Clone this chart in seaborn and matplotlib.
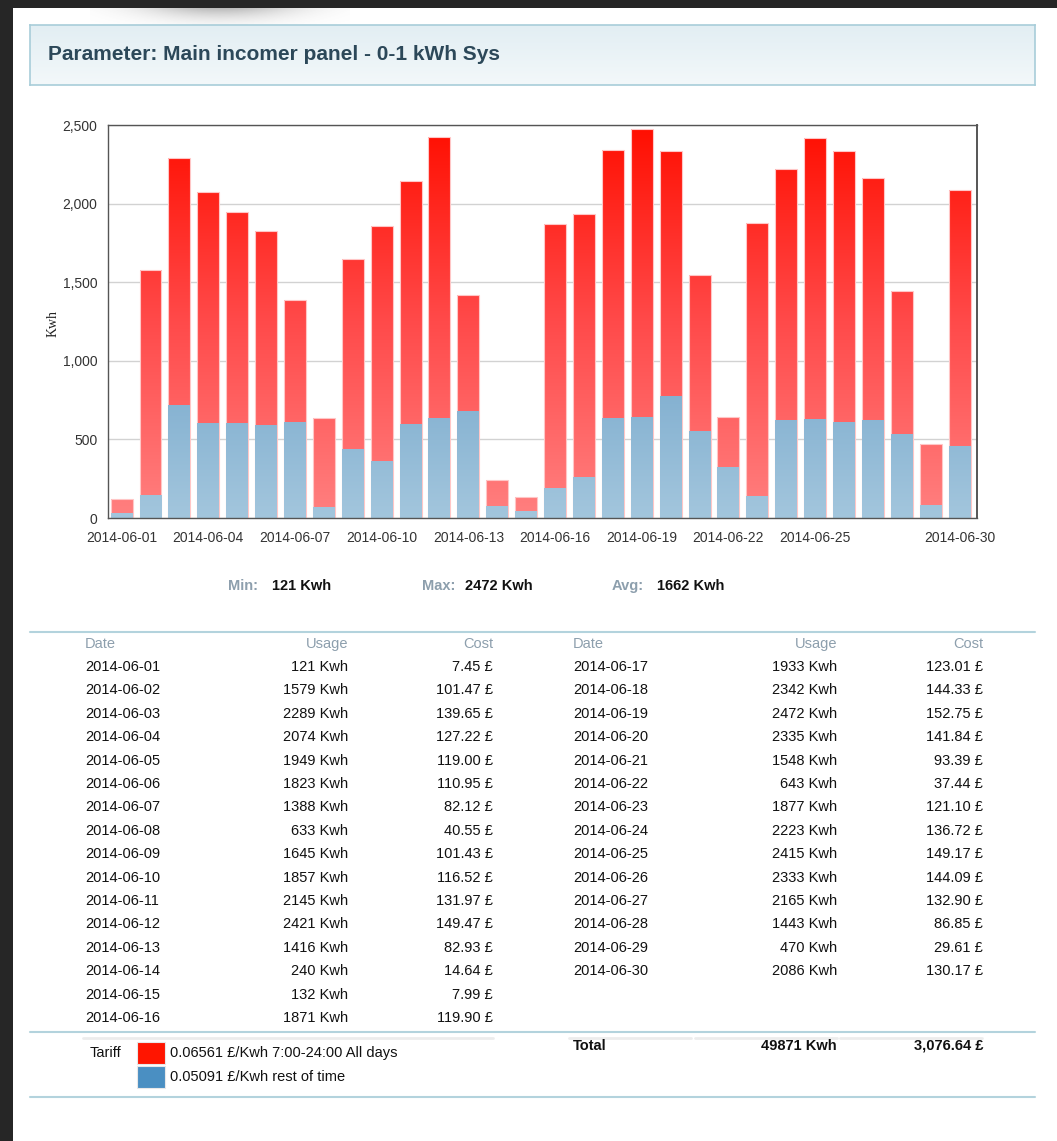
import numpy as np
import pandas as pd
import matplotlib
matplotlib.use("Agg")
import matplotlib.pyplot as plt
from matplotlib.colors import LinearSegmentedColormap
from matplotlib.patches import Rectangle
from matplotlib.lines import Line2D
import seaborn as sns

# ---------------- data ----------------
dates = ["2014-06-01", "2014-06-02", "2014-06-03", "2014-06-04", "2014-06-05",
         "2014-06-06", "2014-06-07", "2014-06-08", "2014-06-09", "2014-06-10",
         "2014-06-11", "2014-06-12", "2014-06-13", "2014-06-14", "2014-06-15",
         "2014-06-16", "2014-06-17", "2014-06-18", "2014-06-19", "2014-06-20",
         "2014-06-21", "2014-06-22", "2014-06-23", "2014-06-24", "2014-06-25",
         "2014-06-26", "2014-06-27", "2014-06-28", "2014-06-29", "2014-06-30"]
usage = [121, 1579, 2289, 2074, 1949, 1823, 1388, 633, 1645, 1857,
         2145, 2421, 1416, 240, 132, 1871, 1933, 2342, 2472, 2335,
         1548, 643, 1877, 2223, 2415, 2333, 2165, 1443, 470, 2086]
night = [33, 145, 716, 602, 604, 589, 609, 67, 442, 362,
         596, 638, 678, 75, 46, 194, 259, 635, 642, 773,
         556, 323, 139, 621, 631, 611, 622, 532, 83, 455]
cost = ["7.45", "101.47", "139.65", "127.22", "119.00", "110.95", "82.12", "40.55",
        "101.43", "116.52", "131.97", "149.47", "82.93", "14.64", "7.99", "119.90",
        "123.01", "144.33", "152.75", "141.84", "93.39", "37.44", "121.10", "136.72",
        "149.17", "144.09", "132.90", "86.85", "29.61", "130.17"]
xtick_dates = ["2014-06-01", "2014-06-04", "2014-06-07", "2014-06-10", "2014-06-13",
               "2014-06-16", "2014-06-19", "2014-06-22", "2014-06-25", "2014-06-30"]
yticks = [0, 500, 1000, 1500, 2000, 2500]
title = "Parameter: Main incomer panel - 0-1 kWh Sys"
stat_min, stat_max, stat_avg = "121 Kwh", "2472 Kwh", "1662 Kwh"
total_usage, total_cost = "49871 Kwh", "3,076.64 £"
tariff_day = "0.06561 £/Kwh 7:00-24:00 All days"
tariff_night = "0.05091 £/Kwh rest of time"

df = pd.DataFrame({"date": dates, "usage": usage, "night": night})

# ---------------- style ----------------
sns.set_style("white")
plt.rcParams["font.family"] = ["Liberation Sans", "DejaVu Sans"]

W, H = 1057, 1141
fig = plt.figure(figsize=(W / 100, H / 100), dpi=100)
fig.patch.set_facecolor("#262626")


def fx(x):
    return x / W


def fy(y):
    return 1 - y / H


def ftext(x, y, s, **kw):
    kw.setdefault("va", "center")
    fig.text(fx(x), fy(y), s, **kw)


def hline(x0, x1, y, color, lw):
    fig.add_artist(Line2D([fx(x0), fx(x1)], [fy(y), fy(y)], color=color, lw=lw,
                          transform=fig.transFigure))


# white page
fig.add_artist(Rectangle((fx(13), 0), 1, fy(8), transform=fig.transFigure,
                         facecolor="white", edgecolor="none", zorder=0))

# soft shadow at the top-left of the page
sax = fig.add_axes([fx(90), fy(36), 260 / W, 28 / H])
sax.set_axis_off()
gx = np.linspace(-1, 1, 260)
gy = np.linspace(0, 1, 28).reshape(-1, 1)
alpha = np.exp(-(gx / 0.6) ** 2) * (1 - gy) ** 2.2 * 0.45
rgba = np.zeros((28, 260, 4))
rgba[..., :3] = 0.4
rgba[..., 3] = alpha
sax.imshow(rgba, aspect="auto", origin="upper", interpolation="bilinear")

# header box
hax = fig.add_axes([fx(30), fy(85), (1035 - 30) / W, 60 / H])
hgrad = np.linspace(0, 1, 100).reshape(-1, 1)
hax.imshow(hgrad, aspect="auto", origin="upper", extent=[0, 1, 0, 1],
           cmap=LinearSegmentedColormap.from_list("h", ["#e2eef3", "#f3f8fa"]))
hax.set_xticks([])
hax.set_yticks([])
for s in hax.spines.values():
    s.set_color("#a8cdd9")
    s.set_linewidth(1.2)
ftext(48, 55, title, fontsize=15, fontweight="bold", color="#2c4859", ha="left")

# ---------------- chart ----------------
ax = fig.add_axes([fx(108), fy(518), (977 - 108) / W, (518 - 125) / H])
ax.set_facecolor("white")

sns.barplot(data=df, x="date", y="usage", color="#ff3030", width=0.76,
            saturation=1, errorbar=None, ax=ax)
sns.barplot(data=df, x="date", y="night", color="#92bad6", width=0.76,
            saturation=1, errorbar=None, ax=ax)

n = len(dates)
red_patches = ax.patches[:n]
blue_patches = ax.patches[n:2 * n]
grad = np.linspace(0, 1, 256).reshape(-1, 1)
red_cmap = LinearSegmentedColormap.from_list("red", ["#ff8080", "#ff4a4a", "#ff0e00"])
blue_cmap = LinearSegmentedColormap.from_list("blue", ["#a3c6dd", "#84b1d1"])

for p in red_patches:
    x0 = p.get_x()
    x1 = x0 + p.get_width()
    p.set_facecolor("none")
    p.set_edgecolor("#ffc6c6")
    p.set_linewidth(0.8)
    p.set_zorder(2.2)
    im = ax.imshow(grad, extent=[x0, x1, 0, 2500], origin="lower", aspect="auto",
                   cmap=red_cmap, zorder=2.1, interpolation="bilinear")
    im.set_clip_path(p)

for p in blue_patches:
    x0 = p.get_x()
    x1 = x0 + p.get_width()
    p.set_edgecolor("none")
    p.set_zorder(2.3)
    im = ax.imshow(grad, extent=[x0, x1, 0, 800], origin="lower", aspect="auto",
                   cmap=blue_cmap, zorder=2.4, interpolation="bilinear")
    im.set_clip_path(p)

ax.set_xlim(-0.47, n - 1 + 0.6)
ax.set_ylim(0, 2500)
ax.set_yticks(yticks)
ax.set_yticklabels([f"{v:,}" for v in yticks])
ax.set_xticks([dates.index(d) for d in xtick_dates])
ax.set_xticklabels(xtick_dates)
ax.set_xlabel("")
ax.set_ylabel("")
ax.set_axisbelow(True)
ax.yaxis.grid(True, color="#d2d2d2", lw=1)
ax.xaxis.grid(False)
for s in ax.spines.values():
    s.set_visible(True)
    s.set_color("#555555")
    s.set_linewidth(1)
ax.spines["right"].set_linewidth(1.4)
ax.tick_params(axis="both", direction="out", length=5, width=1, color="#444444",
               labelsize=10, labelcolor="#333333")
ax.tick_params(axis="x", pad=4)
ax.tick_params(axis="y", pad=2.5)
ftext(53, 323, "Kwh", rotation=90, ha="center", fontsize=10,
      family=["Liberation Serif", "DejaVu Serif"], color="#222222")

# ---------------- stats ----------------
lab_col = "#8d9fad"
ftext(228, 586, "Min:", color=lab_col, fontsize=10.5, fontweight="bold", ha="left")
ftext(272, 586, stat_min, color="#111111", fontsize=10.5, fontweight="bold", ha="left")
ftext(422, 586, "Max:", color=lab_col, fontsize=10.5, fontweight="bold", ha="left")
ftext(465, 586, stat_max, color="#111111", fontsize=10.5, fontweight="bold", ha="left")
ftext(612, 586, "Avg:", color=lab_col, fontsize=10.5, fontweight="bold", ha="left")
ftext(657, 586, stat_avg, color="#111111", fontsize=10.5, fontweight="bold", ha="left")

# ---------------- table ----------------
teal = "#b3d3dd"
hline(30, 1035, 632, teal, 1.5)
head_col = "#8d9fad"
cols = [(85, 348, 493), (573, 837, 983)]
for cx in cols:
    ftext(cx[0], 644, "Date", color=head_col, fontsize=10.5, ha="left")
    ftext(cx[1], 644, "Usage", color=head_col, fontsize=10.5, ha="right")
    ftext(cx[2], 644, "Cost", color=head_col, fontsize=10.5, ha="right")

row_h = 23.4
for i, (d, u, c) in enumerate(zip(dates, usage, cost)):
    side = 0 if i < 16 else 1
    r = i if i < 16 else i - 16
    y = 667 + r * row_h
    cx = cols[side]
    ftext(cx[0], y, d, color="#111111", fontsize=10.5, ha="left")
    ftext(cx[1], y, f"{u} Kwh", color="#111111", fontsize=10.5, ha="right")
    ftext(cx[2], y, f"{c} £", color="#111111", fontsize=10.5, ha="right")

hline(30, 1035, 1032, teal, 1.5)
for x0, x1 in [(83, 493), (569, 691), (695, 837), (840, 982)]:
    hline(x0, x1, 1037.5, "#ececec", 2)

# tariff legend
ftext(90, 1053, "Tariff", color="#111111", fontsize=10.5, ha="left")
fig.add_artist(Rectangle((fx(137), fy(1064)), 28 / W, 22 / H, transform=fig.transFigure,
                         facecolor="#ff1500", edgecolor="#e8e8e8", lw=0.8))
fig.add_artist(Rectangle((fx(137), fy(1088)), 28 / W, 22 / H, transform=fig.transFigure,
                         facecolor="#4a8fc2", edgecolor="#e8e8e8", lw=0.8))
ftext(170, 1053, tariff_day, color="#111111", fontsize=10.5, ha="left")
ftext(170, 1077, tariff_night, color="#111111", fontsize=10.5, ha="left")

ftext(573, 1046, "Total", color="#111111", fontsize=10.5, fontweight="bold", ha="left")
ftext(837, 1046, total_usage, color="#111111", fontsize=10.5, fontweight="bold", ha="right")
ftext(983, 1046, total_cost, color="#111111", fontsize=10.5, fontweight="bold", ha="right")

hline(30, 1035, 1097, teal, 1.5)

fig.savefig("out.png", dpi=100, facecolor=fig.get_facecolor())
